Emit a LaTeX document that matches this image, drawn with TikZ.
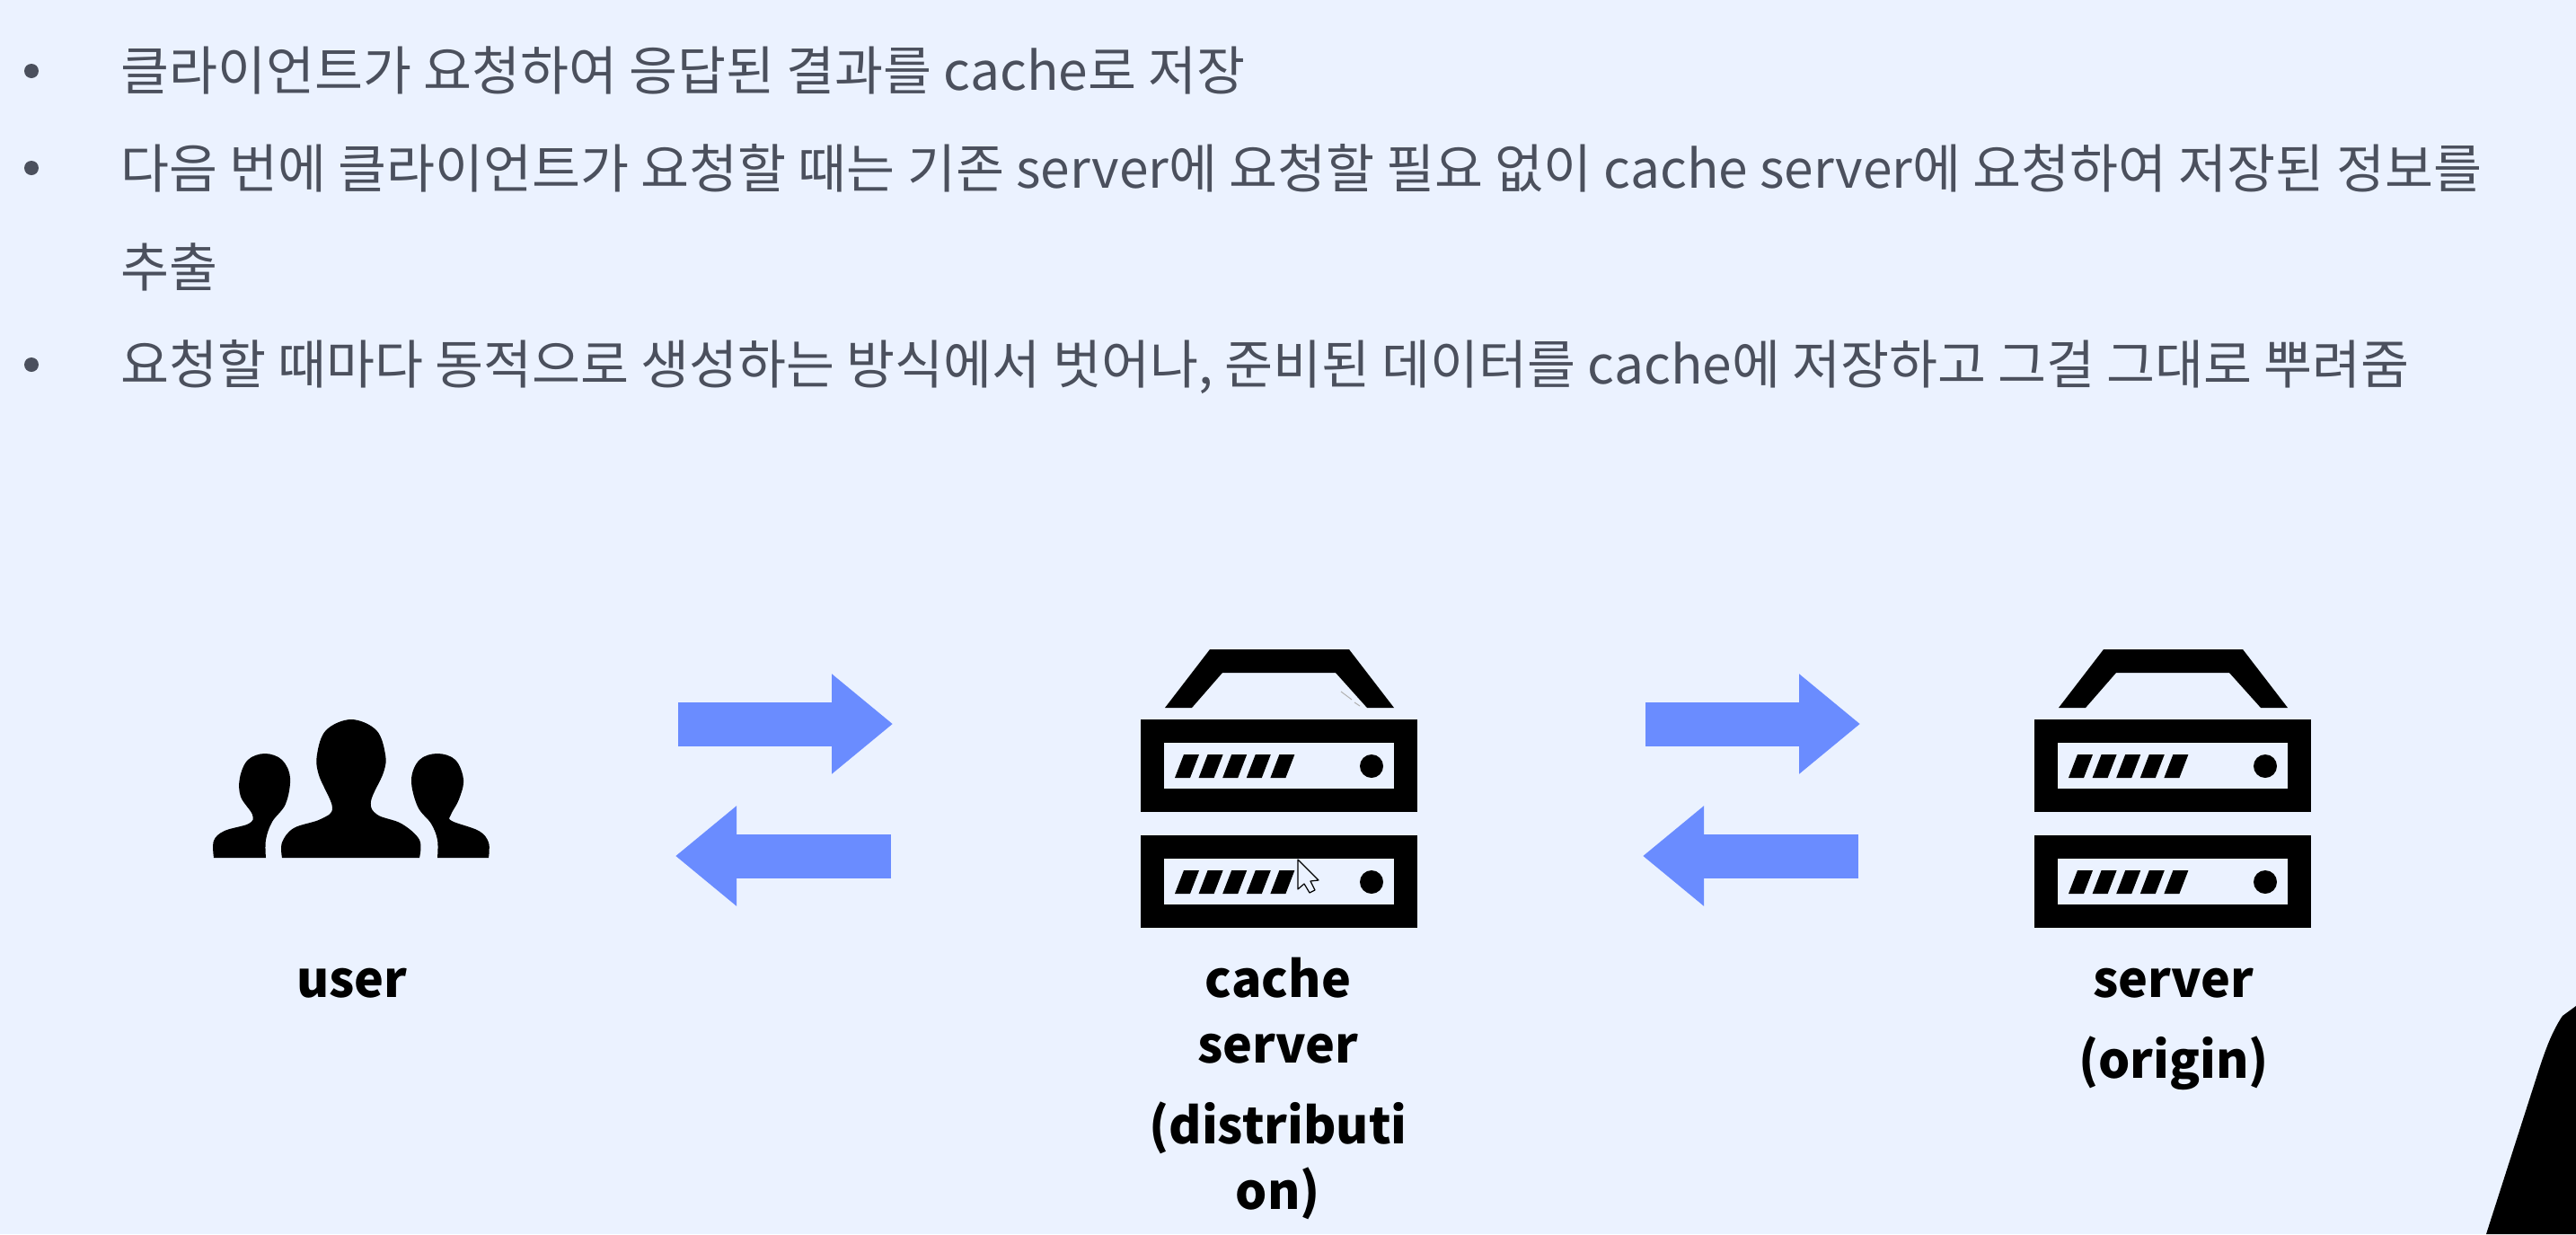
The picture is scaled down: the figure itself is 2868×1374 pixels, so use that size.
\documentclass[tikz,border=0pt]{standalone}
\usepackage{fontspec}
\setmainfont{Noto Sans CJK KR}
\usetikzlibrary{arrows.meta}
\definecolor{bgc}{HTML}{EBF2FF}
\definecolor{txtc}{HTML}{4B505D}
\definecolor{arrc}{HTML}{6A8CFF}
\tikzset{
  bodytext/.style={anchor=base west,inner sep=0pt,text=txtc,font=\fontsize{58.7}{70}\selectfont},
  bulletdot/.style={circle,fill=txtc,draw=none,minimum size=16pt,inner sep=0pt},
  lab/.style={anchor=base,inner sep=0pt,text=black,font=\fontsize{55.5}{66}\selectfont\bfseries},
  blockarrow/.style={draw=arrc,line width=49pt,-{Triangle[length=68pt,width=107pt]},shorten >=0pt},
  ink/.style={fill=black,draw=none},
  panel/.style={fill=bgc,draw=none}
}
\newcommand{\rackbox}[1]{%
  \fill[ink] (1270,#1) rectangle (1578,#1+103);
  \fill[panel] (1296,#1+26) rectangle (1552,#1+77);
  \foreach \i in {0,...,4}{
    \fill[ink] ({1308+\i*26.6},#1+65) -- ({1325+\i*26.6},#1+65) -- ({1335+\i*26.6},#1+39) -- ({1318+\i*26.6},#1+39) -- cycle;
  }
  \fill[ink] (1527,#1+52) circle (13);
}
\newcommand{\servericon}{%
  \fill[ink] (1297,788) -- (1347,723) -- (1502,723) -- (1552,788) -- (1522,788) -- (1487,749) -- (1361,749) -- (1327,788) -- cycle;
  \rackbox{801}
  \rackbox{930}
}
\begin{document}
\begin{tikzpicture}[x=1pt,y=-1pt]
\useasboundingbox (0,0) rectangle (2868,1374);
\fill[panel] (0,0) rectangle (2868,1374);

% bullets
\node[bulletdot] (b1) at (35,79) {};
\node[bulletdot] (b2) at (35,187) {};
\node[bulletdot] (b3) at (35,406) {};
\node[bodytext] (t1) at (134,100) {클라이언트가 요청하여 응답된 결과를 cache로 저장};
\node[bodytext] (t2) at (134,209) {다음 번에 클라이언트가 요청할 때는 기존 server에 요청할 필요 없이 cache server에 요청하여 저장된 정보를};
\node[bodytext] (t2b) at (134,319) {추출};
\node[bodytext] (t3) at (134,427) {요청할 때마다 동적으로 생성하는 방식에서 벗어나, 준비된 데이터를 cache에 저장하고 그걸 그대로 뿌려줌};

% users
\fill[ink] plot[smooth,tension=.6] coordinates {(314,955) (314,938) (327,922) (357,912) (370,899) (355,863) (353,840) (363,813) (391,801) (419,813) (429,840) (427,860) (413,892) (420,907) (447,917) (467,935) (467,955)} -- cycle;
\fill[ink] plot[smooth,tension=.6] coordinates {(238,955) (238,936) (250,925) (277,917) (281,907) (268,887) (267,866) (276,846) (295,839) (314,846) (323,866) (318,895) (303,915) (296,935) (296,955)} -- cycle;
\fill[ink] plot[smooth,tension=.6] coordinates {(487,955) (487,935) (480,917) (465,898) (458,868) (467,846) (487,839) (507,846) (516,868) (511,890) (502,907) (503,914) (533,925) (544,938) (544,955)} -- cycle;

% servers
\servericon
\begin{scope}[xshift=995pt]
\servericon
\end{scope}

% cursor and its faint trace
\draw[gray!60,line width=1pt] (1493,770) -- (1505,779) (1508,782) -- (1514,786);
\draw[black,fill=bgc,line width=1.2pt,line join=round] (1445,957) -- (1445,990) -- (1452,984) -- (1458,994) -- (1464,991) -- (1459,981) -- (1468,980) -- cycle;

% arrows
\coordinate (a1s) at (755,806); \coordinate (a1e) at (994,806);
\coordinate (a2s) at (992,953); \coordinate (a2e) at (752,953);
\coordinate (a3s) at (1832,806); \coordinate (a3e) at (2071,806);
\coordinate (a4s) at (2069,953); \coordinate (a4e) at (1829,953);
\draw[blockarrow] (a1s) -- (a1e);
\draw[blockarrow] (a2s) -- (a2e);
\draw[blockarrow] (a3s) -- (a3e);
\draw[blockarrow] (a4s) -- (a4e);

% labels
\node[lab] (l1) at (392,1110) {user};
\node[lab] (l2) at (1423,1110) {cache};
\node[lab] (l3) at (1423,1183) {server};
\node[lab] (l4) at (1423,1273) {(distributi};
\node[lab] (l5) at (1423,1346) {on)};
\node[lab] (l6) at (2420,1110) {server};
\node[lab] (l7) at (2420,1200) {(origin)};

% presenter's shoulder
\fill[ink] (2868,1120) -- (2853,1131) .. controls (2840,1150) and (2832,1175) .. (2827,1190) -- (2768,1374) -- (2868,1374) -- cycle;
\end{tikzpicture}
\end{document}
